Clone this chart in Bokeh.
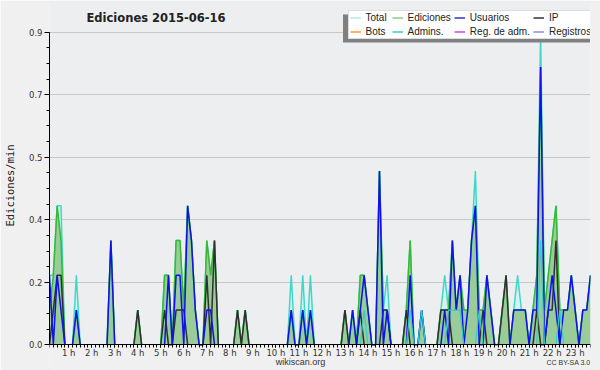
import math
from bokeh.plotting import figure
from bokeh.models import (ColumnDataSource, FixedTicker, Legend, LegendItem,
                          BoxAnnotation, Range1d, Label)
from bokeh.embed import file_html
from bokeh.resources import INLINE

# ---- data: 10-minute bins (edits per minute), k = 0 .. 141 ----
total = [
    .2, .2, .4, .4, 0, 0, 0, .2, 0, 0, 0, 0,
    0, 0, 0, 0, .3, 0, 0, 0, 0, 0, 0, .1,
    0, 0, 0, 0, 0, 0, .2, .2, 0, .3, .3, .1,
    .4, .3, .1, 0, 0, .3, .2, .3, 0, 0, 0, 0,
    0, .1, 0, .1, 0, 0, 0, 0, 0, 0, 0, 0,
    0, 0, 0, .2, 0, 0, .2, 0, .2, 0, 0, 0,
    0, 0, 0, 0, 0, .1, 0, .1, 0, .2, .2, .1,
    0, 0, .5, .1, .2, 0, 0, 0, 0, .1, .3, 0,
    0, .1, 0, 0, 0, 0, .1, .2, .1, .3, .1, .2,
    .1, .1, .3, .5, .1, .1, .2, .1, 0, 0, .1, .2,
    0, .1, .2, .1, .1, 0, .1, .2, .9, .1, .2, .3,
    .4, .1, .1, .1, .2, .1, 0, .1, .1, .2]
ediciones = [
    .1, .2, .4, .3, 0, 0, 0, .1, 0, 0, 0, 0,
    0, 0, 0, 0, .3, 0, 0, 0, 0, 0, 0, .1,
    0, 0, 0, 0, 0, 0, .2, .2, 0, .3, .3, .1,
    .4, .3, .1, 0, 0, .3, .2, .3, 0, 0, 0, 0,
    0, .1, 0, .1, 0, 0, 0, 0, 0, 0, 0, 0,
    0, 0, 0, .1, 0, 0, .1, 0, .1, 0, 0, 0,
    0, 0, 0, 0, 0, .1, 0, .1, 0, .2, .2, .1,
    0, 0, .5, .1, .1, 0, 0, 0, 0, .1, .3, 0,
    0, .1, 0, 0, 0, 0, .1, .1, .1, .3, .1, .2,
    .1, .1, .3, .4, .1, .1, .2, .1, 0, 0, .1, .2,
    0, .1, .1, .1, .1, 0, .1, .2, .8, .1, .2, .3,
    .4, .1, .1, .1, .2, .1, 0, .1, .1, .2]
usuarios = [
    .2, 0, .2, .1, 0, 0, 0, .1, 0, 0, 0, 0,
    0, 0, 0, 0, .3, 0, 0, 0, 0, 0, 0, 0,
    0, 0, 0, 0, 0, 0, 0, .2, 0, .2, .2, 0,
    .4, .3, .1, 0, 0, .1, .1, 0, 0, 0, 0, 0,
    0, 0, 0, 0, 0, 0, 0, 0, 0, 0, 0, 0,
    0, 0, 0, .1, 0, 0, .1, 0, .1, 0, 0, 0,
    0, 0, 0, 0, 0, 0, 0, .1, 0, .1, .2, .1,
    0, 0, .5, 0, .1, 0, 0, 0, 0, 0, .2, 0,
    0, .1, 0, 0, 0, 0, 0, .1, 0, .3, .1, .2,
    0, .1, .3, .4, 0, 0, .2, .1, 0, 0, 0, 0,
    0, .1, .1, .1, .1, 0, .1, .1, .8, 0, .1, .2,
    .1, 0, .1, .1, .2, .1, 0, .1, .1, .2]
ip = [
    0, .1, .2, .2, 0, 0, 0, 0, 0, 0, 0, 0,
    0, 0, 0, 0, 0, 0, 0, 0, 0, 0, 0, .1,
    0, 0, 0, 0, 0, 0, .1, 0, 0, .1, .1, .1,
    0, 0, 0, 0, 0, .2, 0, .3, 0, 0, 0, 0,
    0, .1, 0, .1, 0, 0, 0, 0, 0, 0, 0, 0,
    0, 0, 0, 0, 0, 0, 0, 0, 0, 0, 0, 0,
    0, 0, 0, 0, 0, .1, 0, 0, 0, .1, 0, 0,
    0, 0, 0, .1, .1, 0, 0, 0, 0, .1, 0, 0,
    0, 0, 0, 0, 0, 0, .1, .1, .1, 0, 0, 0,
    0, 0, 0, 0, 0, .1, 0, 0, 0, 0, .1, .2,
    0, 0, 0, 0, 0, 0, 0, .1, 0, 0, .1, .1,
    .3, 0, 0, 0, 0, 0, 0, 0, 0, 0]
admins = [
    0, 0, 0, 0, 0, 0, 0, 0, 0, 0, 0, 0,
    0, 0, 0, 0, 0, 0, 0, 0, 0, 0, 0, 0,
    0, 0, 0, 0, 0, 0, 0, 0, 0, 0, 0, 0,
    0, 0, 0, 0, 0, 0, 0, 0, 0, 0, 0, 0,
    0, 0, 0, 0, 0, 0, 0, 0, 0, 0, 0, 0,
    0, 0, 0, 0, 0, 0, 0, 0, 0, 0, 0, 0,
    0, 0, 0, 0, 0, 0, 0, 0, 0, 0, .1, 0,
    0, 0, 0, 0, 0, 0, 0, 0, 0, 0, .1, 0,
    0, .1, 0, 0, 0, 0, 0, 0, .1, .1, .1, .1,
    0, 0, 0, 0, .1, 0, 0, 0, 0, 0, 0, 0,
    0, 0, 0, 0, 0, 0, 0, 0, .3, 0, 0, 0,
    0, .1, 0, 0, 0, 0, 0, 0, 0, 0]

hour_labels = ["%d h" % h for h in range(1, 24)]
y_ticks = [0.0, 0.18, 0.36, 0.54, 0.72, 0.9]
y_tick_labels = ["0.0", "0.2", "0.4", "0.5", "0.7", "0.9"]

legend_names = ["Total", "Bots", "Ediciones", "Admins.", "Usuarios",
                "Reg. de adm.", "IP", "Registros"]
legend_colors = ["#b4eae8", "#ff9933", "#88cc88", "#33cccc", "#3333dd",
                 "#cc44ee", "#333333", "#8888ee"]

n = len(total)
k = list(range(n))


def outline(vals):
    # hide flat zero runs so lines do not paint the baseline
    out = []
    for i, v in enumerate(vals):
        left = vals[i - 1] if i > 0 else 0
        right = vals[i + 1] if i < len(vals) - 1 else 0
        out.append(v if (v > 0 or left > 0 or right > 0) else float("nan"))
    return out


src = ColumnDataSource(dict(
    k=k, zero=[0] * n, total=total, ediciones=ediciones,
    tl=outline(total), el=outline(ediciones), ul=outline(usuarios),
    il=outline(ip), al=outline(admins)))

# frame covers the whole height; 0.0 sits 25.7 px above the bottom and
# 0.9 sits 31.7 px below the top (347.3 px per unit)
PX = 347.3
y_lo = -25.7 / PX
y_hi = 0.9 + 31.7 / PX

p = figure(width=600, height=370, output_backend="svg", toolbar_location=None,
           x_range=Range1d(0, n - 1), y_range=Range1d(y_lo, y_hi),
           min_border_left=47, min_border_right=10, min_border_top=0,
           min_border_bottom=0)
p.background_fill_color = "#eceef0"
p.border_fill_color = "#f0f0f0"
p.outline_line_color = None
p.styles = {"outline": "1px solid #a8a8a8", "outline-offset": "-2px"}

# area below the x axis painted like the page background
p.add_layout(BoxAnnotation(top=0, fill_color="#f0f0f0", fill_alpha=1,
                           line_color=None, level="underlay"))

# areas
p.varea(x="k", y1="zero", y2="total", source=src, fill_color="#d6f2ef")
p.line(x="k", y="tl", source=src, line_color="#3fd8c8", line_width=1.5)
p.varea(x="k", y1="zero", y2="ediciones", source=src, fill_color="#99cc99")
p.line(x="k", y="el", source=src, line_color="#33bb33", line_width=1.5)
# lines
p.line(x="k", y="il", source=src, line_color="#2f2f2f", line_width=1.5)
p.line(x="k", y="ul", source=src, line_color="#1010ee", line_width=1.5)
p.line(x="k", y="al", source=src, line_color="#33cccc", line_width=1.2)

# axes
hour_pos = [6 * h - 1 for h in range(1, 24)]
xax = p.xaxis[0]
xax.fixed_location = 0
xax.ticker = FixedTicker(ticks=hour_pos, minor_ticks=k)
xax.major_label_overrides = {pos: lab for pos, lab in zip(hour_pos, hour_labels)}
xax.major_tick_out = 3
xax.major_tick_in = 0
xax.minor_tick_out = 3
xax.minor_tick_in = 0
xax.major_label_standoff = 0
xax.axis_line_color = "black"
xax.major_label_text_font = "DejaVu Sans"
xax.major_label_text_font_size = "8.5px"
xax.major_label_text_color = "#333333"

yax = p.yaxis[0]
yax.bounds = (0, 0.9)
yax.ticker = FixedTicker(ticks=y_ticks, minor_ticks=[i * 0.045 for i in range(21)])
yax.major_label_overrides = {t: lab for t, lab in zip(y_ticks, y_tick_labels)}
yax.major_tick_out = 5
yax.major_tick_in = 0
yax.minor_tick_out = 3
yax.minor_tick_in = 0
yax.major_label_standoff = 2
yax.axis_line_color = "black"
yax.major_label_text_font = "DejaVu Sans"
yax.major_label_text_font_size = "8.5px"
yax.major_label_text_color = "#333333"
yax.axis_label = "Ediciones/min"
yax.axis_label_standoff = 10
yax.axis_label_text_font = "DejaVu Sans Mono"
yax.axis_label_text_font_size = "10.5px"
yax.axis_label_text_font_style = "normal"
yax.axis_label_text_color = "#222222"

p.xgrid.visible = False
p.ygrid.grid_line_color = "#c8c8c8"
p.ygrid.grid_line_width = 1

# legend with shadow
shadow = BoxAnnotation(left=342.5, right=589.5, top=14, bottom=42,
                       left_units="canvas", right_units="canvas",
                       top_units="canvas", bottom_units="canvas",
                       fill_color="#808080", fill_alpha=1, line_color=None)
p.add_layout(shadow)
items = []
for name, color in zip(legend_names, legend_colors):
    r = p.line(x=[0], y=[float("nan")], line_color=color, line_width=1.5)
    items.append(LegendItem(label=name, renderers=[r]))
legend = Legend(items=items, location=(298.5, 370 - 38.8), orientation="vertical",
                nrows=2, label_text_font="Liberation Sans",
                label_text_font_size="10px", label_text_color="#222222",
                label_height=9, label_width=23, glyph_height=9,
                glyph_width=11, label_standoff=5, spacing=3, padding=1,
                margin=0, border_line_color="#bbbbbb",
                background_fill_color="white", background_fill_alpha=1)
p.add_layout(legend)

# texts
p.add_layout(Label(x=86, y=17, x_units="canvas", y_units="canvas",
                   text="Ediciones  2015-06-16", text_align="left",
                   text_baseline="middle", text_font="DejaVu Sans",
                   text_font_style="bold", text_font_size="11.5px",
                   text_color="#222222"))
p.add_layout(Label(x=300, y=361, x_units="canvas", y_units="canvas",
                   text="wikiscan.org", text_align="center",
                   text_baseline="middle", text_font="Liberation Sans",
                   text_font_size="9px", text_color="#333333"))
p.add_layout(Label(x=590, y=362, x_units="canvas", y_units="canvas",
                   text="CC BY-SA 3.0", text_align="right",
                   text_baseline="middle", text_font="Liberation Sans",
                   text_font_size="7px", text_color="#333333"))

open("out.html", "w").write(file_html(p, INLINE))
